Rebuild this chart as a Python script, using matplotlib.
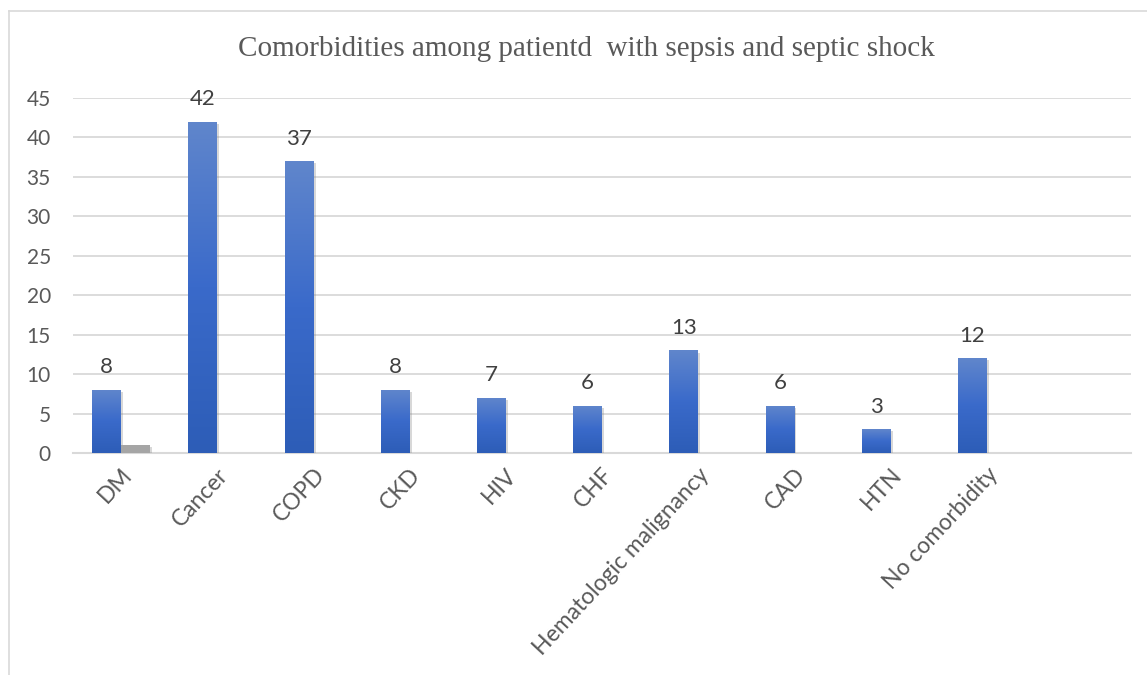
import numpy as np
import matplotlib
matplotlib.use("Agg")
import matplotlib.pyplot as plt
import matplotlib.patheffects as pe
from matplotlib.colors import LinearSegmentedColormap
from matplotlib.lines import Line2D

# Data
categories = ["DM", "Cancer", "COPD", "CKD", "HIV", "CHF",
              "Hematologic malignancy", "CAD", "HTN", "No comorbidity"]
counts = [8, 42, 37, 8, 7, 6, 13, 6, 3, 12]
second = [1, np.nan, np.nan, np.nan, np.nan, np.nan, np.nan, np.nan, np.nan, np.nan]
title = "Comorbidities among patientd  with sepsis and septic shock"

fig = plt.figure(figsize=(11.47, 6.75), dpi=100)
ax = fig.add_axes([73 / 1147, 1 - 453 / 675, (1131 - 73) / 1147, (453 - 98) / 675])

x = np.arange(len(categories))
w = 0.30
shadow = [pe.SimplePatchShadow(offset=(1.5, -1.5), shadow_rgbFace="#808080", alpha=0.3), pe.Normal()]

bars = ax.bar(x - w / 2, counts, width=w, color="#3F6FC6", zorder=3, path_effects=shadow)
ax.bar(x + w / 2, second, width=w, color="#A5A5A5", zorder=3, path_effects=shadow)

# vertical gradient on the blue bars
cmap = LinearSegmentedColormap.from_list("g", ["#2D5DB7", "#3A6ACA", "#6086CC"])
grad = np.linspace(0, 1, 256).reshape(-1, 1)
for b in bars:
    x0, y0 = b.get_x(), b.get_y()
    im = ax.imshow(grad, cmap=cmap, origin="lower", aspect="auto",
                   extent=(x0, x0 + b.get_width(), y0, y0 + b.get_height()), zorder=4)
    im.set_clip_path(b)

for xi, v in zip(x, counts):
    ax.annotate(str(v), (xi - w / 2, v), xytext=(0, 9), textcoords="offset points",
                ha="center", va="bottom", fontsize=16, color="#404040", family="Lato")

ax.set_xlim(-0.5, 10.5)
ax.set_ylim(0, 45)
ax.set_yticks(range(0, 46, 5))
ax.grid(axis="y", color="#D9D9D9", linewidth=1.3, zorder=0)
ax.set_axisbelow(True)
for s in ["top", "right", "left"]:
    ax.spines[s].set_visible(False)
ax.spines["bottom"].set_color("#D9D9D9")
ax.spines["bottom"].set_linewidth(1.5)

ax.tick_params(axis="y", length=0, pad=16, labelsize=15, labelcolor="#595959")
ax.tick_params(axis="x", length=0, pad=8, labelsize=16.5, labelcolor="#595959")
for lab in ax.get_yticklabels():
    lab.set_family("Lato")
ax.set_xticks(x)
ax.set_xticklabels(categories, rotation=47, ha="right", va="top",
                   rotation_mode="anchor", family="Lato")

ax.set_xlim(-0.5, 10.5)

fig.text(586 / 1147, 1 - 49 / 675, title, ha="center", va="center",
         fontsize=21, color="#595959", family="Liberation Serif")

# chart frame (top and left edges visible)
fig.add_artist(Line2D([8.5 / 1147, 8.5 / 1147], [0, 1 - 10.5 / 675], transform=fig.transFigure,
                      color="#D9D9D9", linewidth=1.2))
fig.add_artist(Line2D([8.5 / 1147, 1], [1 - 10.5 / 675, 1 - 10.5 / 675], transform=fig.transFigure,
                      color="#D9D9D9", linewidth=1.2))

fig.savefig("out.png", dpi=100, facecolor="white")
